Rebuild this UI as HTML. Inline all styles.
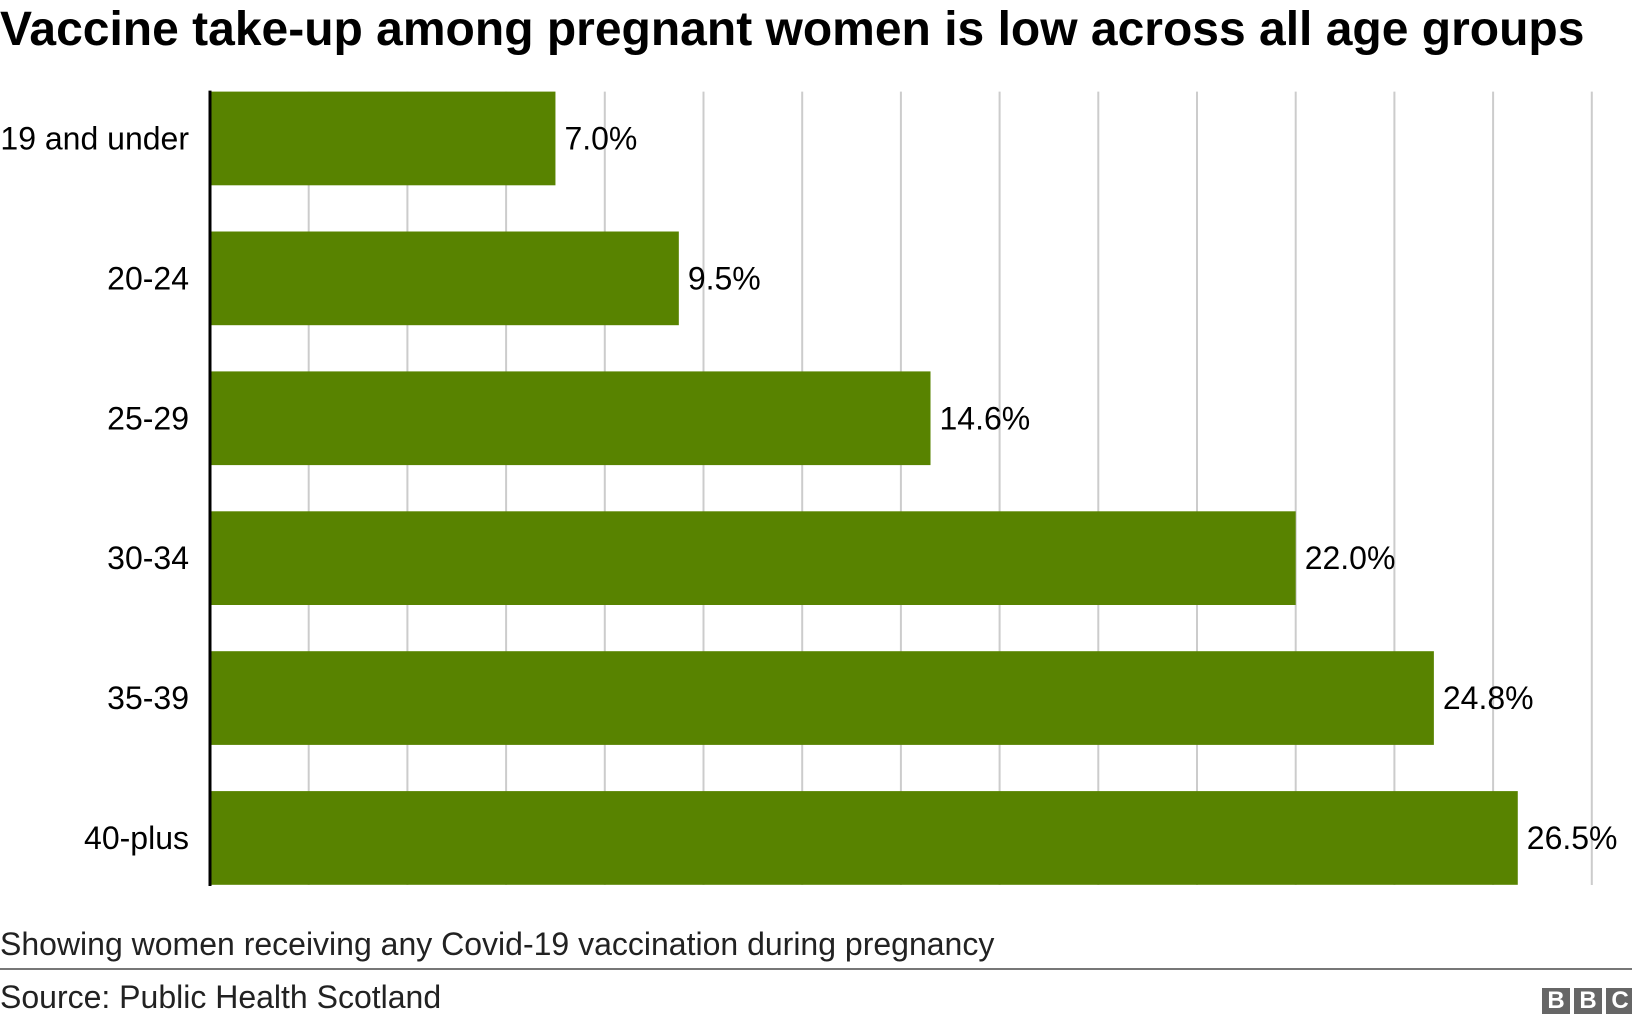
<!DOCTYPE html>
<html><head><meta charset="utf-8"><style>
body{margin:0;width:1632px;height:1024px;background:#fff;font-family:"Liberation Sans",Arial,sans-serif;overflow:hidden;position:relative}
.t{position:absolute;white-space:nowrap;color:#000}
</style></head><body>
<div class="t" style="left:0;top:2px;font-size:48px;font-weight:bold">Vaccine take-up among pregnant women is low across all age groups</div>
<svg id="c" width="1632" height="900" style="position:absolute;left:0;top:0"></svg>
<div class="t" style="left:0;top:926px;font-size:32px;color:#222">Showing women receiving any Covid-19 vaccination during pregnancy</div>
<div style="position:absolute;left:0;top:968px;width:1632px;height:2px;background:#777"></div>
<div class="t" style="left:0;top:979px;font-size:32px;color:#222">Source: Public Health Scotland</div>
<div style="position:absolute;left:1542px;top:988px;display:flex;gap:4px">
<span style="width:28px;height:26px;background:#666;color:#fff;font:bold 24px 'Liberation Sans';text-align:center;line-height:26px">B</span>
<span style="width:28px;height:26px;background:#666;color:#fff;font:bold 24px 'Liberation Sans';text-align:center;line-height:26px">B</span>
<span style="width:28px;height:26px;background:#666;color:#fff;font:bold 24px 'Liberation Sans';text-align:center;line-height:26px">C</span>
</div>
<script>
const categories=["19 and under","20-24","25-29","30-34","35-39","40-plus"];
const values=[7.0,9.5,14.6,22.0,24.8,26.5];
const valueLabels=["7.0%","9.5%","14.6%","22.0%","24.8%","26.5%"];
const gridTicks=[2,4,6,8,10,12,14,16,18,20,22,24,26,28];
const svg=document.getElementById('c');
const NS='http://www.w3.org/2000/svg';
const x0=210,pxPer=49.35,top0=91.6,step=139.9,bh=93.7;
const xs=v=>x0+v*pxPer;
const ys=i=>top0+i*step;
function mk(t,a){const e=document.createElementNS(NS,t);for(const k in a)e.setAttribute(k,a[k]);svg.appendChild(e);return e;}
gridTicks.forEach(g=>{
const l=mk('line',{x1:xs(g),x2:xs(g),y1:top0,y2:885,stroke:'#cccccc','stroke-width':2});


});
categories.forEach((c,i)=>{
const r=mk('rect',{x:x0,y:ys(i),width:xs(values[i])-x0,height:bh,fill:'#588300'});


const t=mk('text',{x:189,y:ys(i)+bh/2+11,'text-anchor':'end','font-size':32,'font-family':'Liberation Sans, sans-serif',fill:'#000'});
t.textContent=c;


const v=mk('text',{x:xs(values[i])+9,y:ys(i)+bh/2+11,'font-size':32,'font-family':'Liberation Sans, sans-serif',fill:'#000'});
v.textContent=valueLabels[i];


});
const ax=mk('line',{x1:x0,x2:x0,y1:top0-1,y2:886,stroke:'#000','stroke-width':3});


</script>
</body></html>
